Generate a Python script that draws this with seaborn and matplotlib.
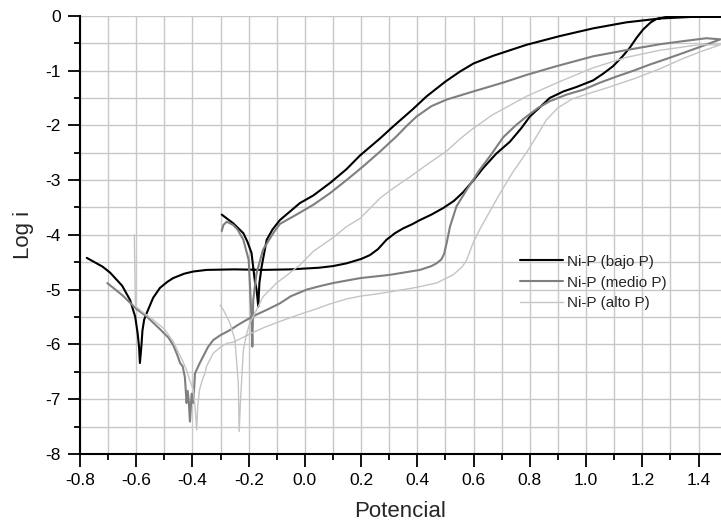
import matplotlib
matplotlib.use("Agg")
import matplotlib.pyplot as plt
import seaborn as sns
import pandas as pd
from matplotlib.ticker import MultipleLocator, FormatStrFormatter

# Curvas de polarización (barrido ida y vuelta)
bajo_x = [-0.776, -0.72, -0.693, -0.65, -0.622, -0.604, -0.595, -0.590, -0.587, -0.582, -0.578, -0.572,
          -0.563, -0.54, -0.516, -0.49, -0.469, -0.43, -0.398, -0.35, -0.25, -0.15, -0.05, 0.05, 0.10,
          0.148, 0.20, 0.231, 0.26, 0.29, 0.32, 0.35, 0.38, 0.409, 0.45, 0.492, 0.53, 0.563, 0.60,
          0.634, 0.68, 0.729, 0.77, 0.80, 0.84, 0.871, 0.92, 0.966, 1.025, 1.06, 1.096, 1.13, 1.156,
          1.18, 1.203, 1.23, 1.25, 1.286, 1.38, 1.478,
          1.38, 1.262, 1.143, 1.025, 0.907, 0.788, 0.67, 0.60, 0.551, 0.50, 0.433, 0.385, 0.314,
          0.267, 0.196, 0.148, 0.09, 0.03, -0.018, -0.05, -0.089, -0.115, -0.136, -0.154, -0.162,
          -0.166, -0.172, -0.178, -0.19, -0.205, -0.219, -0.255, -0.296]
bajo_y = [-4.42, -4.58, -4.69, -4.93, -5.19, -5.49, -5.80, -6.05, -6.34, -6.05, -5.75, -5.55,
          -5.43, -5.15, -4.97, -4.86, -4.79, -4.71, -4.67, -4.64, -4.63, -4.64, -4.63, -4.60, -4.57,
          -4.52, -4.44, -4.37, -4.26, -4.09, -3.97, -3.88, -3.81, -3.73, -3.63, -3.51, -3.38, -3.22, -3.00,
          -2.78, -2.52, -2.30, -2.05, -1.84, -1.65, -1.50, -1.38, -1.30, -1.18, -1.06, -0.92, -0.74, -0.58,
          -0.40, -0.25, -0.12, -0.06, -0.02, -0.02, -0.02,
          -0.02, -0.05, -0.12, -0.23, -0.37, -0.53, -0.73, -0.87, -1.02, -1.20, -1.47, -1.70, -2.02,
          -2.24, -2.55, -2.80, -3.05, -3.28, -3.42, -3.56, -3.73, -3.90, -4.09, -4.58, -4.88,
          -5.31, -5.00, -4.85, -4.33, -4.12, -3.97, -3.79, -3.63]

medio_x = [-0.703, -0.65, -0.60, -0.563, -0.516, -0.485, -0.468, -0.455, -0.444, -0.435, -0.427, -0.421,
           -0.417, -0.413, -0.409, -0.403, -0.397, -0.391, -0.375, -0.362, -0.345, -0.326, -0.30, -0.267,
           -0.24, -0.207, -0.17, -0.136, -0.089, -0.05, 0.006, 0.05, 0.10, 0.196, 0.302, 0.409, 0.45,
           0.468, 0.485, 0.495, 0.504, 0.516, 0.539, 0.575, 0.622, 0.66, 0.705, 0.75, 0.788, 0.83, 0.871,
           0.93, 0.99, 1.05, 1.108, 1.17, 1.227, 1.29, 1.345, 1.41, 1.478,
           1.428, 1.35, 1.262, 1.15, 1.025, 0.895, 0.788, 0.705, 0.60, 0.504, 0.45, 0.397, 0.36, 0.326,
           0.267, 0.207, 0.148, 0.089, 0.03, -0.03, -0.089, -0.113, -0.149, -0.172, -0.184, -0.187,
           -0.191, -0.196, -0.200, -0.219, -0.240, -0.255, -0.278, -0.29, -0.296]
medio_y = [-4.88, -5.10, -5.35, -5.49, -5.72, -5.88, -6.02, -6.18, -6.34, -6.40, -6.60, -7.07,
           -6.85, -7.05, -7.41, -6.90, -7.07, -6.53, -6.35, -6.22, -6.05, -5.92, -5.83, -5.74,
           -5.65, -5.55, -5.45, -5.37, -5.25, -5.12, -5.00, -4.94, -4.88, -4.79, -4.73, -4.64, -4.57,
           -4.52, -4.45, -4.35, -4.15, -3.85, -3.48, -3.18, -2.81, -2.55, -2.22, -2.00, -1.84, -1.68, -1.56,
           -1.44, -1.35, -1.22, -1.11, -1.00, -0.89, -0.78, -0.68, -0.56, -0.43,
           -0.41, -0.46, -0.52, -0.62, -0.74, -0.92, -1.08, -1.22, -1.38, -1.53, -1.65, -1.84, -2.02, -2.20,
           -2.48, -2.75, -3.00, -3.24, -3.45, -3.63, -3.80, -3.97, -4.27, -4.70, -5.19, -6.04,
           -5.40, -4.88, -4.46, -4.09, -3.90, -3.82, -3.76, -3.82, -3.93]

alto_x = [-0.607, -0.605, -0.603, -0.58, -0.54, -0.50, -0.468, -0.45, -0.435, -0.421, -0.41, -0.397,
          -0.390, -0.385, -0.381, -0.375, -0.365, -0.356, -0.35, -0.34, -0.326, -0.30, -0.278, -0.255,
          -0.231, -0.184, -0.14, -0.089, -0.018, 0.03, 0.09, 0.148, 0.196, 0.267, 0.385, 0.468, 0.527,
          0.56, 0.575, 0.598, 0.622, 0.66, 0.693, 0.74, 0.788, 0.83, 0.859, 0.90, 0.95, 0.99, 1.084,
          1.17, 1.262, 1.345, 1.41, 1.478,
          1.40, 1.262, 1.143, 1.025, 0.907, 0.788, 0.67, 0.60, 0.551, 0.504, 0.433, 0.385, 0.314, 0.267,
          0.196, 0.148, 0.10, 0.03, -0.018, -0.06, -0.101, -0.149, -0.172, -0.196, -0.207, -0.219,
          -0.229, -0.234, -0.237, -0.249, -0.267, -0.29, -0.302]
alto_y = [-4.00, -4.60, -5.30, -5.40, -5.55, -5.72, -5.95, -6.15, -6.30, -6.47, -6.65, -6.83,
          -7.20, -7.56, -7.10, -6.83, -6.65, -6.53, -6.40, -6.30, -6.16, -6.05, -5.98, -5.96,
          -5.90, -5.78, -5.68, -5.58, -5.45, -5.37, -5.26, -5.17, -5.12, -5.07, -4.97, -4.88, -4.73,
          -4.58, -4.46, -4.15, -3.90, -3.55, -3.25, -2.85, -2.50, -2.15, -1.90, -1.68, -1.52, -1.45, -1.30,
          -1.15, -0.97, -0.78, -0.65, -0.53,
          -0.53, -0.63, -0.76, -0.95, -1.20, -1.47, -1.80, -2.05, -2.25, -2.47, -2.72, -2.90, -3.15, -3.33,
          -3.70, -3.85, -4.05, -4.30, -4.55, -4.72, -4.88, -5.13, -5.37, -5.61, -5.80, -6.10,
          -7.01, -7.59, -6.71, -5.92, -5.61, -5.37, -5.28]

series = [
    ("Ni-P (bajo P)", bajo_x, bajo_y, "#000000", 1.5),
    ("Ni-P (medio P)", medio_x, medio_y, "#7f7f7f", 1.5),
    ("Ni-P (alto P)", alto_x, alto_y, "#c4c4c4", 1.0),
]

sns.set_style("ticks")
plt.rcParams["font.family"] = ["Liberation Sans", "DejaVu Sans"]
plt.rcParams["axes.unicode_minus"] = False

fig = plt.figure(figsize=(7.21, 5.26), dpi=100)
ax = fig.add_axes([0.111, 0.137, 0.889, 0.833])

for nombre, xs, ys, color, lw in series:
    df = pd.DataFrame({"Potencial": xs, "Log i": ys})
    sns.lineplot(data=df, x="Potencial", y="Log i", sort=False, estimator=None,
                 color=color, linewidth=lw, label=nombre, ax=ax)

ax.set_xlim(-0.8, 1.48)
ax.set_ylim(-8, 0)
ax.xaxis.set_major_locator(MultipleLocator(0.2))
ax.xaxis.set_minor_locator(MultipleLocator(0.1))
ax.yaxis.set_major_locator(MultipleLocator(1))
ax.yaxis.set_minor_locator(MultipleLocator(0.5))
ax.xaxis.set_major_formatter(FormatStrFormatter("%.1f"))
ax.yaxis.set_major_formatter(FormatStrFormatter("%d"))

ax.grid(which="both", color="#c8c8c8", linewidth=1.0)
ax.set_axisbelow(True)
for s in ["top", "right"]:
    ax.spines[s].set_visible(False)
for s in ["left", "bottom"]:
    ax.spines[s].set_color("black")
    ax.spines[s].set_linewidth(1.5)

ax.tick_params(which="major", direction="out", length=9, width=1.3, labelsize=12.5, colors="black", pad=5)
ax.tick_params(which="minor", direction="out", length=4.5, width=1.3, colors="black")

ax.set_xlabel("Potencial", fontsize=16, labelpad=9)
ax.set_ylabel("Log i", fontsize=16, labelpad=8)

ax.legend(loc="upper left", bbox_to_anchor=(0.665, 0.486), frameon=False, fontsize=11,
          handlelength=2.8, handletextpad=0.3, labelspacing=0.45)

fig.savefig("out.png", dpi=100)
